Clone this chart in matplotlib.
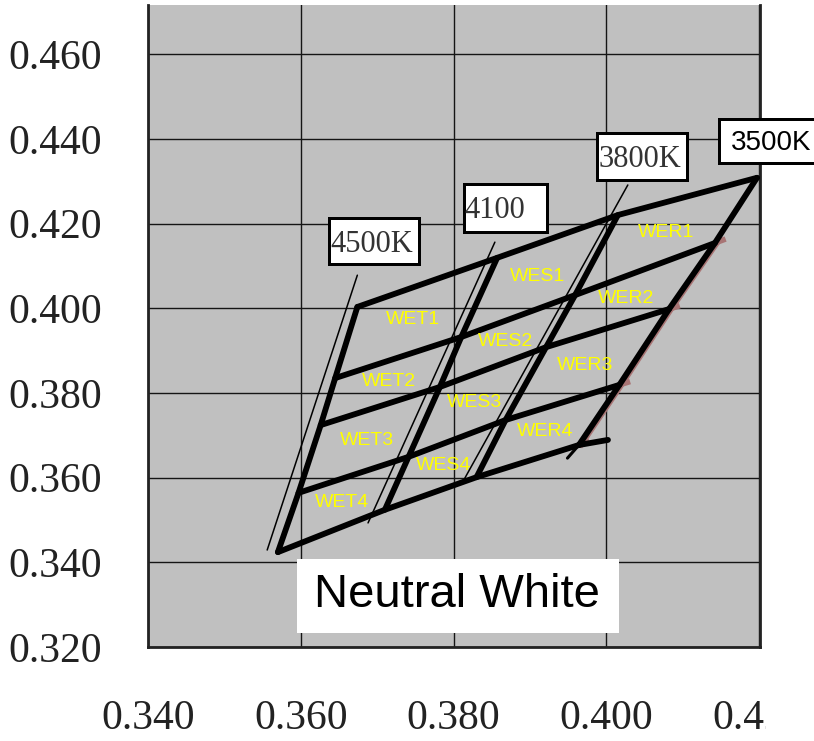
import numpy as np
import matplotlib
matplotlib.use('Agg')
import matplotlib.pyplot as plt
from matplotlib.patches import Rectangle
from matplotlib.transforms import Bbox, TransformedBbox, offset_copy

# CCT boundary lines (steep), vertices from top row boundary down to bottom row boundary
cct_names = ['4500K', '4100', '3800K', '3500K']
cct_x = [
    [0.3674, 0.3645, 0.3626, 0.3597, 0.3570],
    [0.3857, 0.3810, 0.3782, 0.3741, 0.3710],
    [0.4015, 0.3959, 0.3921, 0.3868, 0.3830],
    [0.4197, 0.4142, 0.4082, 0.4017, 0.3964],
]
cct_y = [
    [0.4003, 0.3835, 0.3724, 0.3564, 0.3424],
    [0.4119, 0.3932, 0.3814, 0.3649, 0.3524],
    [0.4220, 0.4031, 0.3908, 0.3736, 0.3601],
    [0.4308, 0.4154, 0.3998, 0.3819, 0.3677],
]

# bins: columns x rows
bin_groups = ['WET', 'WES', 'WER']
bin_rows = [1, 2, 3, 4]

# thin isotherm lines next to the bin edges
iso_x = [[0.3674, 0.3556], [0.3854, 0.3688], [0.4028, 0.3812]]
iso_y = [[0.4078, 0.3429], [0.4156, 0.3493], [0.4291, 0.3590]]

# small overshoots at the bottom right corner
bottom_tail_x = [0.3964, 0.4002]
bottom_tail_y = [0.3677, 0.3689]
right_tail_x = [0.3964, 0.3949]
right_tail_y = [0.3677, 0.3646]

xticks = [0.340, 0.360, 0.380, 0.400, 0.420]
yticks = [0.320, 0.340, 0.360, 0.380, 0.400, 0.420, 0.440, 0.460]

W, H = 814, 741
fig = plt.figure(figsize=(W / 100, H / 100), dpi=100)
ax = fig.add_axes([148 / W, 1 - 647 / H, 612 / W, 642 / H])
ax.set_facecolor('#c0c0c0')
ax.set_xlim(0.340, 0.4201)
ax.set_ylim(0.320, 0.4716)

serif = ['Liberation Serif', 'DejaVu Serif']
sans = ['Liberation Sans', 'DejaVu Sans']

ax.set_xticks(xticks, ['%.3f' % v for v in xticks])
ax.set_yticks(yticks, ['%.3f' % v for v in yticks])
ax.tick_params(length=0, labelsize=30, colors='#222222')
ax.tick_params(axis='x', pad=38)
ax.tick_params(axis='y', pad=33)
for lbl in ax.get_xticklabels() + ax.get_yticklabels():
    lbl.set_family(serif)
ax.grid(True, color='#151515', lw=1.0)
ax.set_axisbelow(True)
ax.spines['top'].set_visible(False)
for s in ['left', 'bottom', 'right']:
    ax.spines[s].set_linewidth(2.0)
    ax.spines[s].set_color('#222222')

cx = np.array(cct_x)
cy = np.array(cct_y)

# pink edge along the 3500K line
pink = '#a87474'
sh = offset_copy(ax.transData, fig=fig, x=2.5, y=0, units='dots')
ax.plot(cx[3, 1:], cy[3, 1:], color=pink, lw=3.5, transform=sh, zorder=3)
for j in range(1, 5):
    # short pink overshoot of the rows past the 3500K line
    dx = cx[3, j] - cx[2, j]
    dy = cy[3, j] - cy[2, j]
    f = 0.0014 / dx
    ax.plot([cx[3, j], cx[3, j] + dx * f], [cy[3, j], cy[3, j] + dy * f],
            color=pink, lw=4, solid_capstyle='butt', zorder=3)

lw = 4.2
kw = dict(color='black', solid_capstyle='round', solid_joinstyle='round',
          zorder=4, clip_on=False)
for i in range(len(cct_names)):
    ax.plot(cx[i], cy[i], lw=lw, **kw)
for j in range(len(bin_rows) + 1):
    ax.plot(cx[:, j], cy[:, j], lw=lw, **kw)
ax.plot(bottom_tail_x, bottom_tail_y, lw=lw, **kw)
ax.plot(right_tail_x, right_tail_y, lw=2.2, **kw)
for xs, ys in zip(iso_x, iso_y):
    ax.plot(xs, ys, lw=1.1, **kw)

# bin names at the bin centres
for i, g in enumerate(bin_groups):
    for j, r in enumerate(bin_rows):
        mx = np.mean([cx[i, j], cx[i + 1, j], cx[i + 1, j + 1], cx[i, j + 1]])
        my = np.mean([cy[i, j], cy[i + 1, j], cy[i + 1, j + 1], cy[i, j + 1]])
        ax.text(mx, my, '%s%d' % (g, r), color='#ffff00', fontsize=14,
                family=sans, ha='center', va='center', zorder=5)


def fx(x):
    return x / W


def fy(y):
    return 1 - y / H


def box(x0, y0, x1, y1, lwp=3, face='white', edge='black'):
    inset = lwp / 2 if edge != 'none' else 0
    r = Rectangle((fx(x0 + inset), fy(y1 - inset)),
                  (x1 - x0 - 2 * inset) / W, (y1 - y0 - 2 * inset) / H,
                  transform=fig.transFigure, facecolor=face, edgecolor=edge,
                  lw=lwp * 0.72, zorder=6)
    fig.add_artist(r)


# CCT labels
box(327, 216, 421, 265)
fig.text(fx(372), fy(252), cct_names[0], family=serif, fontsize=22,
         color='#333333', ha='center', va='baseline', zorder=7)
box(462, 183, 548, 233)
fig.text(fx(495), fy(218), cct_names[1], family=serif, fontsize=22,
         color='#333333', ha='center', va='baseline', zorder=7)
box(595, 132, 688, 181)
fig.text(fx(640), fy(167), cct_names[2], family=serif, fontsize=22,
         color='#333333', ha='center', va='baseline', zorder=7)
box(717, 117, 824, 164)
fig.text(fx(771), fy(150), cct_names[3], family=sans, fontsize=20,
         color='black', ha='center', va='baseline', zorder=7)

# title box
box(297, 559, 619, 633, edge='none')
fig.text(fx(457), fy(607), 'Neutral White', family=sans, fontsize=34,
         color='black', ha='center', va='baseline', zorder=7)

# the last x label is cut off at the image edge
last = ax.get_xticklabels()[-1]
last.set_clip_box(TransformedBbox(Bbox([[0, 0], [766 / W, 1]]), fig.transFigure))
last.set_clip_on(True)

fig.savefig('out.png', dpi=100)
